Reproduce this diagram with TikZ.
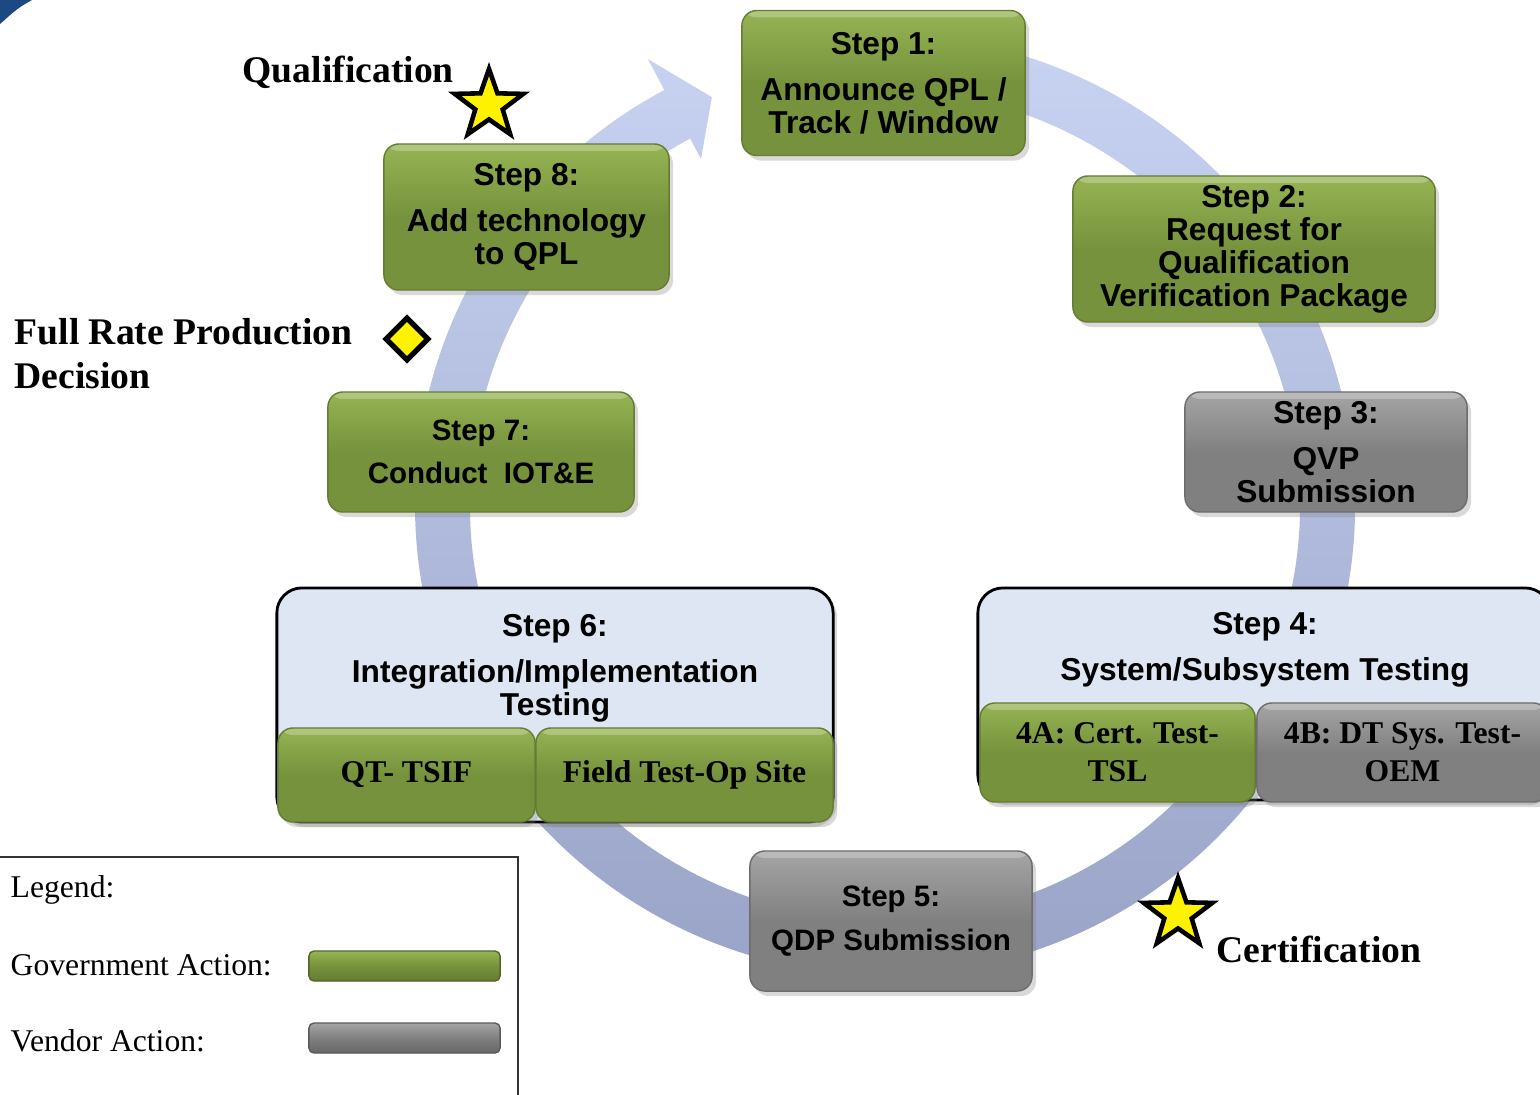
\documentclass[tikz,border=0pt]{standalone}
\usepackage{fontspec}
\usepackage{tikz}
\usetikzlibrary{shapes.geometric,shadows}
\newfontfamily\boxfont{Liberation Sans}
\newfontfamily\labelfont{Liberation Serif}
\definecolor{govgreen}{RGB}{118,146,60}
\definecolor{govlight}{RGB}{150,180,84}
\definecolor{vendgray}{RGB}{128,128,128}
\definecolor{vendlight}{RGB}{165,165,165}
\definecolor{panelblue}{RGB}{221,230,242}
\definecolor{ringtop}{RGB}{202,212,243}
\definecolor{ringbot}{RGB}{152,162,198}
\definecolor{cornerblue}{RGB}{28,72,132}
\tikzset{
  stepbox/.style={rounded corners=0.15cm, align=center, inner sep=0pt,
    drop shadow={shadow xshift=0.04cm, shadow yshift=-0.05cm, opacity=0.3},
    font=\boxfont\bfseries\fontsize{9}{9.4}\selectfont,
    path picture={\fill[white, opacity=0.25] (path picture bounding box.north west) rectangle ([yshift=-0.07cm]path picture bounding box.north east);}},
  govbox/.style={stepbox, top color=govlight, bottom color=govgreen, middle color=govgreen, draw=govgreen!85!black, line width=0.4pt},
  vendbox/.style={stepbox, top color=vendlight, bottom color=vendgray, middle color=vendgray, draw=vendgray!85!black, line width=0.4pt},
  subbox/.style={font=\labelfont\bfseries\fontsize{9}{10.8}\selectfont},
  panel/.style={rounded corners=0.25cm, fill=panelblue, draw=black, line width=0.8pt,
    drop shadow={shadow xshift=0.04cm, shadow yshift=-0.05cm, opacity=0.3}},
  paneltext/.style={align=center, font=\boxfont\bfseries\fontsize{9}{9.4}\selectfont},
  milestone/.style={anchor=base west, align=left, inner sep=0pt, font=\labelfont\bfseries\fontsize{10.7}{12.5}\selectfont},
  legendtext/.style={anchor=base west, inner sep=0pt, font=\labelfont\fontsize{9}{10}\selectfont},
  legendbar/.style={rounded corners=0.05cm, minimum width=1.91cm, minimum height=0.30cm, inner sep=0pt},
  starmark/.style={star, star points=5, star point ratio=2.5, fill=yellow, draw=black, line width=1.3pt, minimum size=0.72cm, inner sep=0pt}
}
\begin{document}
\begin{tikzpicture}[x=0.01cm, y=-0.01cm]
\useasboundingbox (0,0) rectangle (1540,1094);
\fill[cornerblue] (0,0) -- (32,0) .. controls (18,8) .. (0,24) -- cycle;
\begin{scope}[shift={(885,505)}]
\shade[top color=ringtop, bottom color=ringbot]
  (-100:470) arc[start angle=-100, end angle=242, radius=470]
  -- (242:505) -- (247:443) -- (242:392) -- (242:415)
  arc[start angle=242, end angle=-100, radius=415] -- cycle;
\end{scope}

\node[govbox, minimum width=2.83cm, minimum height=1.45cm] (step1) at (883.5,83) {Step 1:\\[3.7pt] Announce QPL /\\ Track / Window};
\node[govbox, minimum width=3.62cm, minimum height=1.46cm] (step2) at (1254,249) {Step 2:\\ Request for\\ Qualification\\ Verification Package};
\node[vendbox, minimum width=2.82cm, minimum height=1.20cm] (step3) at (1326,452) {Step 3:\\[3.7pt] QVP\\ Submission};

\node[panel, minimum width=5.72cm, minimum height=2.12cm] (step4) at (1264,694) {};
\node[paneltext] (step4text) at (1265,650) {Step 4:\\[3.7pt] System/Subsystem Testing};
\node[govbox, subbox, minimum width=2.75cm, minimum height=0.99cm] (step4a) at (1117.5,752.5) {4A: Cert. Test-\\ TSL};
\node[vendbox, subbox, minimum width=2.91cm, minimum height=0.99cm] (step4b) at (1402.5,752.5) {4B: DT Sys. Test-\\ OEM};

\node[vendbox, minimum width=2.82cm, minimum height=1.40cm, font=\boxfont\bfseries\fontsize{8.4}{9.4}\selectfont] (step5) at (891,921) {Step 5:\\[3pt] QDP Submission};

\node[panel, minimum width=5.56cm, minimum height=2.34cm] (step6) at (555,705) {};
\node[paneltext] (step6text) at (555,668) {Step 6:\\[3.7pt] Integration/Implementation\\ Testing};
\node[govbox, subbox, minimum width=2.57cm, minimum height=0.94cm] (step6a) at (406.5,775) {QT- TSIF};
\node[govbox, subbox, minimum width=2.97cm, minimum height=0.94cm] (step6b) at (684.5,775) {Field Test-Op Site};

\node[govbox, minimum width=3.06cm, minimum height=1.20cm, font=\boxfont\bfseries\fontsize{8.4}{9.4}\selectfont] (step7) at (481,452) {Step 7:\\[3pt] Conduct~ IOT\&E};
\node[govbox, minimum width=2.85cm, minimum height=1.46cm] (step8) at (526.5,217) {Step 8:\\[3.7pt] Add technology\\ to QPL};

\node[milestone] (qualtext) at (242,83) {Qualification};
\node[starmark] (qualstar) at (489,105) {};
\node[milestone] (frptext) at (14,388) {Full Rate Production\\ Decision};
\node[diamond, fill=yellow, draw=black, line width=1.5pt, minimum size=0.44cm, inner sep=0pt] (frpmark) at (407,339) {};
\node[starmark] (certstar) at (1178,914) {};
\node[milestone] (certtext) at (1216,962) {Certification};

\draw[line width=0.6pt, black!80] (-5,857) -- (518,857) -- (518,1100);
\node[legendtext] (legendtitle) at (10,897) {Legend:};
\node[legendtext] (govtext) at (10,975) {Government Action:};
\node[legendtext] (vendtext) at (10,1051) {Vendor Action:};
\node[legendbar, top color=govlight, bottom color=govgreen!85!black, middle color=govgreen, draw=govgreen!70!black] (govbar) at (404.5,966) {};
\node[legendbar, top color=vendlight, bottom color=vendgray!80!black, middle color=vendgray, draw=vendgray!70!black] (vendbar) at (404.5,1038) {};
\end{tikzpicture}
\end{document}
